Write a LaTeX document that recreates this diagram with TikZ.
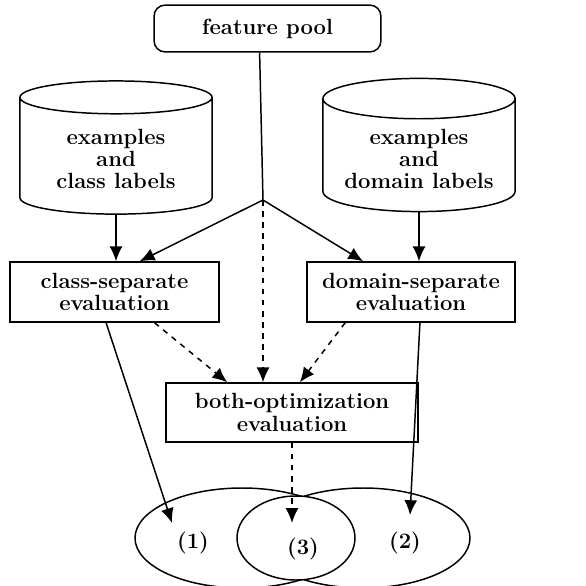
\documentclass[tikz,border=0pt]{standalone}
\usepackage{tikz}
\usetikzlibrary{calc,arrows.meta,positioning,shapes.geometric}

\begin{document}
\begin{tikzpicture}[x=0.019cm,y=-0.019cm,
  font=\fontsize{11.9}{12.1}\selectfont\bfseries, line width=0.8pt,
  evalbox/.style={draw, align=center, inner sep=2pt},
  datadrum/.style={draw, cylinder, shape border rotate=90, aspect=0.25,
    minimum width=3.65cm, minimum height=2.53cm, align=center},
  arr/.style={-{Latex[length=8pt,width=7pt]}},
  darr/.style={arr, dashed}]
\useasboundingbox (0,0) rectangle (586,586);

\node[draw, rounded corners=6pt, minimum width=4.31cm, minimum height=0.89cm] (pool) at (267.5,28.5) {feature pool};
\node[datadrum] (cylL) at (116,159) {examples\\and\\class labels};
\node[datadrum] (cylR) at (419,159) {examples\\and\\domain labels};

\node[evalbox, minimum width=3.97cm, minimum height=1.14cm] (cls) at (114.5,292) {class-separate\\evaluation};
\node[evalbox, minimum width=3.95cm, minimum height=1.14cm] (dom) at (411,292) {domain-separate\\evaluation};
\node[evalbox, minimum width=4.79cm, minimum height=1.12cm] (both) at (292,412.5) {both-optimization\\evaluation};

% result sets
\draw (242,538) ellipse (107 and 50);
\draw (363,538) ellipse (107 and 50);
\draw[fill=white] (296,538) ellipse (59 and 42);
\node (r1) at (193,543) {(1)};
\node (r2) at (405,543) {(2)};
\node (r3) at (303,549) {(3)};
\coordinate (e1) at (172,523);
\coordinate (e2) at (410,515);
\coordinate (e3) at (293,523);

\coordinate (split) at (263,200);
\draw ([xshift=-0.15cm]pool.south) -- (split);
\draw[arr] (split) -- ([xshift=0.48cm]cls.north);
\draw[arr] (split) -- ([xshift=-0.91cm]dom.north);
\draw[darr] (split) -- (split |- both.north);

\draw[arr] (cylL.south) -- (cylL.south |- cls.north);
\draw[arr] (cylR.south) -- (cylR.south |- dom.north);

\draw[darr] ([xshift=0.76cm]cls.south) -- ([xshift=-1.23cm]both.north);
\draw[darr] ([xshift=-1.25cm]dom.south) -- ([xshift=0.15cm]both.north);
\draw[darr] (both.south) -- (both.south |- e3);

\draw[arr] ([xshift=-0.16cm]cls.south) -- (e1);
\draw[arr] ([xshift=0.17cm]dom.south) -- (e2);
\end{tikzpicture}
\end{document}
